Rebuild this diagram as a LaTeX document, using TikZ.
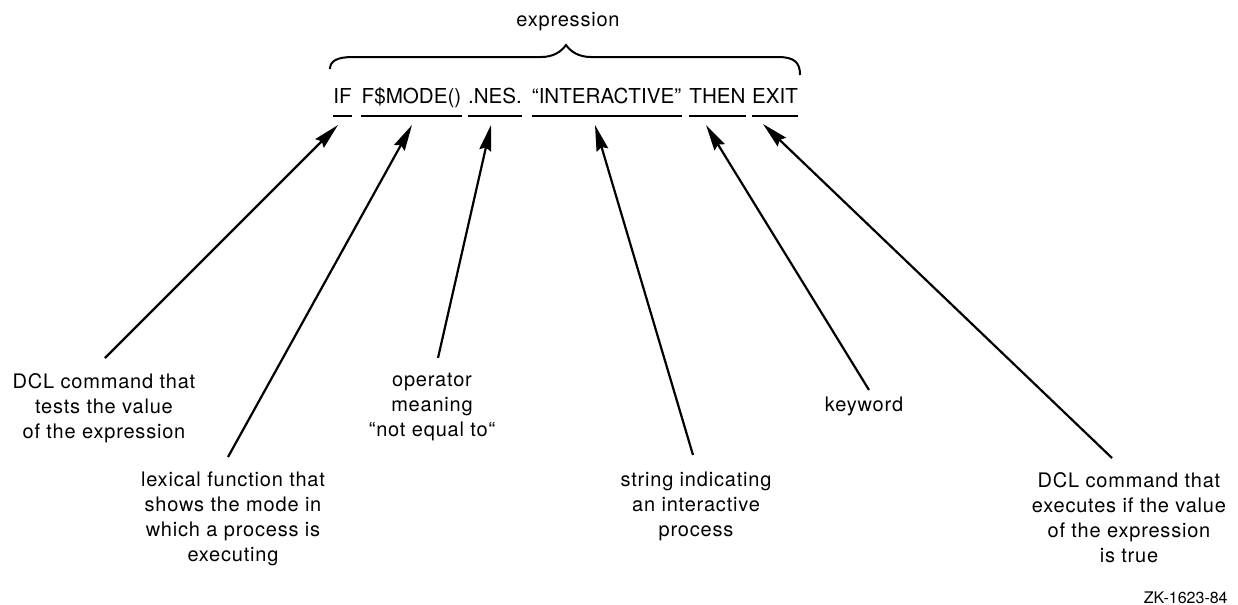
\documentclass[tikz,border=0pt]{standalone}
\usepackage{fontspec}
\setmainfont{TeX Gyre Heros}
\newfontfamily\labelfont[LetterSpace=4]{TeX Gyre Heros}
\usetikzlibrary{arrows.meta}
\tikzset{
  word/.style={inner sep=0pt, anchor=base, font=\fontsize{10.3}{12}\selectfont},
  note/.style={inner sep=0pt, anchor=north, align=center, font=\labelfont\fontsize{10}{12.5}\selectfont},
  uline/.style={line width=1pt},
  pointer/.style={line width=1.1pt, -{Stealth[length=13pt,width=6pt,inset=1.5pt]}},
  brace/.style={line width=1pt}
}
\begin{document}
\begin{tikzpicture}[x=0.5pt, y=-0.5pt]
\path[use as bounding box] (0,0) rectangle (1238,605);

% heading and brace over the command line
\node[word, font=\labelfont\fontsize{10}{12}\selectfont] (expr) at (568,26) {expression};
\draw[brace] (330,69) .. controls (330,61) and (337,57) .. (353,57) -- (541,57)
  .. controls (553,57) and (561,52) .. (566,45)
  .. controls (571,52) and (579,57) .. (591,57) -- (778,57)
  .. controls (795,57) and (800,63) .. (800,75);

% the command line, one node per element
\node[word] (wIf)   at (342.5,103) {IF};
\node[word] (wMode) at (411.5,103) {F\$MODE()};
\node[word] (wNes)  at (495,103)   {.NES.};
\node[word] (wStr)  at (606.5,103) {“INTERACTIVE”};
\node[word] (wThen) at (717.5,103) {THEN};
\node[word] (wExit) at (775,103)   {EXIT};

\foreach \w in {wIf,wMode,wNes,wStr,wThen,wExit}
  \draw[uline] ([yshift=-6.5pt]\w.base west) -- ([yshift=-6.5pt]\w.base east);

% explanations
\node[note] (nIf)   at (104,373)  {DCL command that\\tests the value\\of the expression};
\node[note] (nMode) at (233,471)  {lexical function that\\shows the mode in\\which a process is\\executing};
\node[note] (nNes)  at (432,373)  {operator\\meaning\\“not equal to“};
\node[note] (nStr)  at (696,472)  {string indicating\\an interactive\\process};
\node[note] (nThen) at (864,397)  {keyword};
\node[note] (nExit) at (1129,472) {DCL command that\\executes if the value\\of the expression\\is true};

\node[inner sep=0pt, anchor=base east, font=\fontsize{8}{10}\selectfont] (ref) at (1228,603) {ZK-1623-84};

% arrow ends
\coordinate (tIf)   at (338,125);
\coordinate (tMode) at (412,125);
\coordinate (tNes)  at (491,125);
\coordinate (tStr)  at (595,125);
\coordinate (tThen) at (706,125);
\coordinate (tExit) at (763,124);

\coordinate (sIf)   at (105,358);
\coordinate (sMode) at (228,457);
\coordinate (sNes)  at (438,358);
\coordinate (sStr)  at (693,455);
\coordinate (sThen) at (869,390);
\coordinate (sExit) at (1112,458);

\draw[pointer] (sIf) -- (tIf);
\draw[pointer] (sMode) -- (tMode);
\draw[pointer] (sNes) -- (tNes);
\draw[pointer] (sStr) -- (tStr);
\draw[pointer] (sThen) -- (tThen);
\draw[pointer] (sExit) -- (tExit);
\end{tikzpicture}
\end{document}
